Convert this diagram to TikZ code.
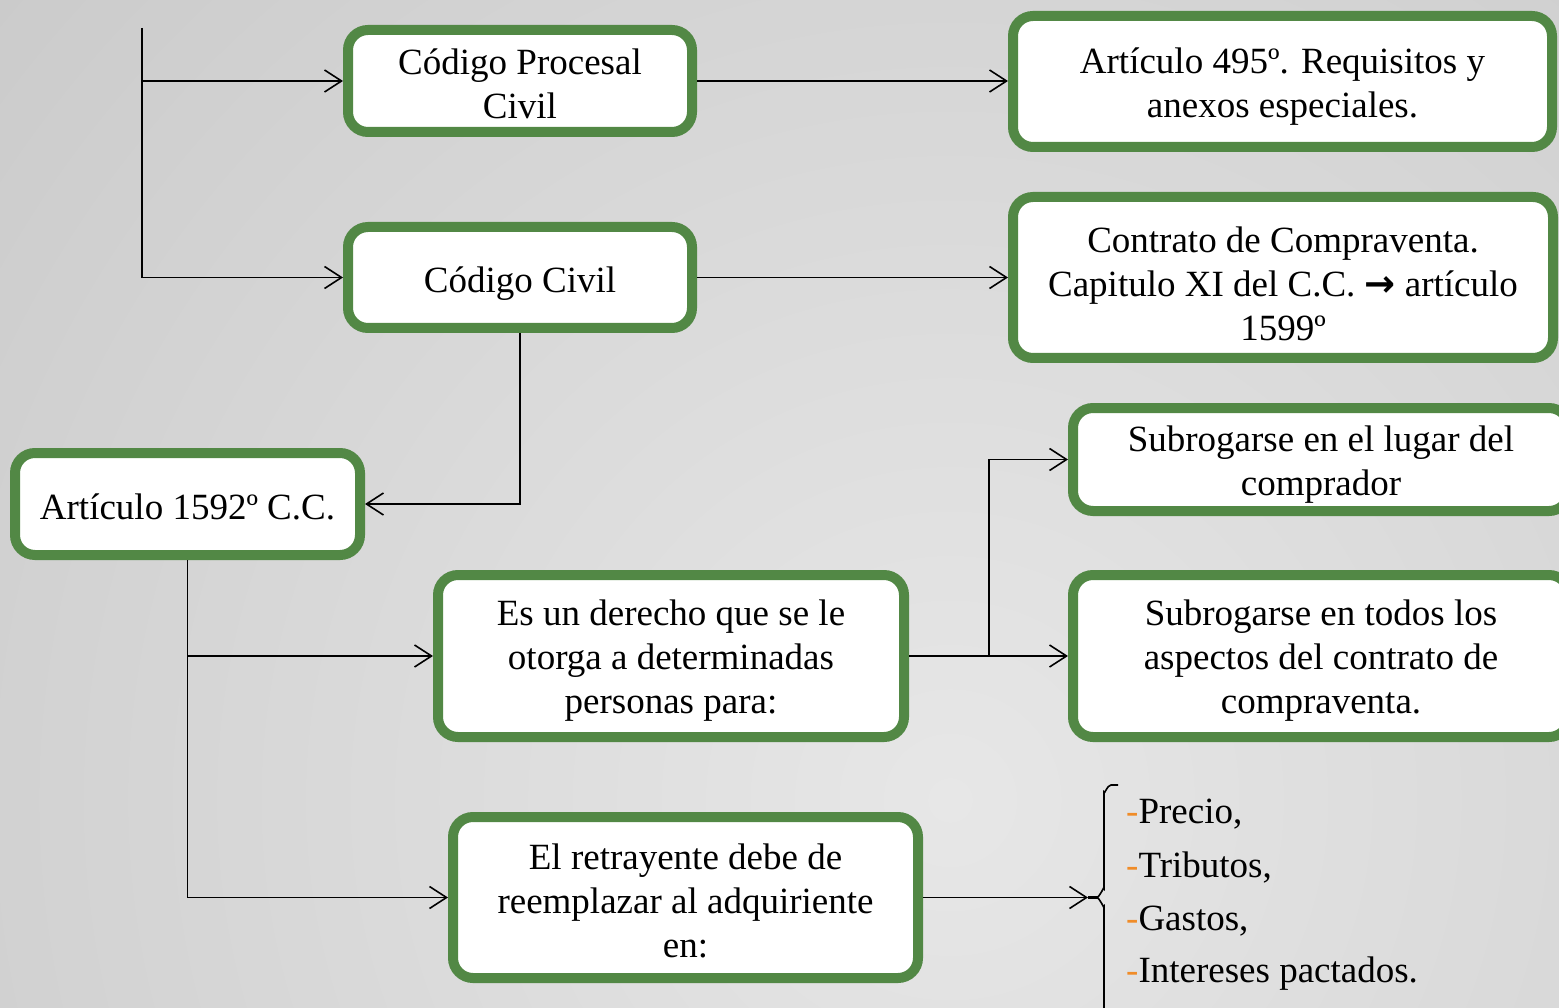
\documentclass[tikz,border=0pt]{standalone}
\usepackage{fontspec}
\setmainfont{Liberation Serif}
\newfontfamily\symfont{DejaVu Sans}
\usetikzlibrary{arrows.meta}
\definecolor{boxgreen}{RGB}{82,136,69}
\definecolor{bgin}{RGB}{231,231,231}
\definecolor{bgmid}{RGB}{204,204,204}
\definecolor{bgout}{RGB}{178,178,178}
\definecolor{dashorange}{RGB}{240,140,40}
\pgfdeclareradialshading{bgshade}{\pgfpoint{0bp}{0bp}}{color(0bp)=(bgin); color(24bp)=(bgmid); color(50bp)=(bgout)}
\tikzset{
  box/.style={draw=boxgreen, line width=10pt, fill=white, rounded corners=20pt, inner sep=0pt},
  boxtext/.style={align=center, inner sep=0pt, yshift=-5pt, font=\fontsize{37}{44}\selectfont},
  conn/.style={draw=black, line width=1.6pt, -{Straight Barb[length=17pt,width=22pt,line width=1.6pt]}},
  plain/.style={draw=black, line width=1.6pt},
  listitem/.style={anchor=base west, inner sep=0pt, font=\fontsize{37}{44}\selectfont}
}
\begin{document}
\begin{tikzpicture}[x=1pt,y=-1pt]
\useasboundingbox (0,0) rectangle (1559,1008);
\begin{scope}
\clip (0,0) rectangle (1559,1008);
\shade[shading=bgshade] (-300,-450) rectangle (2200,2050);
\end{scope}

\node[box, minimum width=344pt, minimum height=102pt, label={[boxtext, yshift=2pt]center:{Código Procesal\\Civil}}] (b1) at (520,81) {};
\node[box, minimum width=539pt, minimum height=131pt, label={[boxtext]center:{Artículo 495º. Requisitos y\\anexos especiales.}}] (b2) at (1282.5,81.5) {};
\node[box, minimum width=344pt, minimum height=101pt, label={[boxtext, yshift=-1pt]center:{Código Civil}}] (b3) at (520,277.5) {};
\node[box, minimum width=540pt, minimum height=161pt, label={[boxtext, yshift=-1pt]center:{Contrato de Compraventa.\\Capitulo XI del C.C. {\symfont\bfseries →} artículo\\1599º}}] (b4) at (1283,277.5) {};
\node[box, minimum width=496pt, minimum height=103pt, label={[boxtext]center:{Subrogarse en el lugar del\\comprador}}] (b5) at (1321,459.5) {};
\node[box, minimum width=496pt, minimum height=162pt, label={[boxtext]center:{Subrogarse en todos los\\aspectos del contrato de\\compraventa.}}] (b6) at (1321,656) {};
\node[box, minimum width=345pt, minimum height=102pt, label={[boxtext, yshift=2pt]center:{Artículo 1592º C.C.}}] (b7) at (187.5,504) {};
\node[box, minimum width=466pt, minimum height=162pt, label={[boxtext]center:{Es un derecho que se le\\otorga a determinadas\\personas para:}}] (b8) at (671,656) {};
\node[box, minimum width=465pt, minimum height=161pt, label={[boxtext, yshift=2pt]center:{El retrayente debe de\\reemplazar al adquiriente\\en:}}] (b9) at (685.5,897.5) {};

\coordinate (top) at (142,28);
\draw[conn] (top) |- (b3.west);
\draw[conn] (top |- b1.west) -- (b1.west);
\draw[conn] (b1.east) -- (b1.east -| b2.west);
\draw[conn] (b3.east) -- (b3.east -| b4.west);
\draw[conn] (b3.south) |- (b7.east);
\draw[conn] (b7.south) |- (b9.west);
\draw[conn] (b7.south |- b8.west) -- (b8.west);
\draw[conn] (b8.east) -- (b8.east -| b6.west);
\coordinate (br) at (989,656);
\draw[conn] (br) |- (b5.west);
\coordinate (bracetip) at (1088,897.5);
\draw[conn] (b9.east) -- (bracetip);
\draw[line width=3pt] (bracetip) -- (1098,897.5);

\draw[plain] (1118,785) -- (1111,785) to[out=180,in=-90] (1104,792) -- (1104,889)
  to[out=90,in=0] (1096,897.5) to[out=0,in=-90] (1104,906) -- (1104,1015);

\node[listitem] (l1) at (1126,823) {\textcolor{dashorange}{-}Precio,};
\node[listitem] (l2) at (1126,877) {\textcolor{dashorange}{-}Tributos,};
\node[listitem] (l3) at (1126,930) {\textcolor{dashorange}{-}Gastos,};
\node[listitem] (l4) at (1126,982) {\textcolor{dashorange}{-}Intereses pactados.};
\end{tikzpicture}
\end{document}
